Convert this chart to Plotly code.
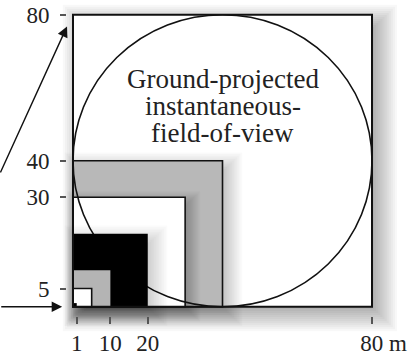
import plotly.graph_objects as go

# ---------------- data ----------------
square_sizes = [80, 40, 30, 20, 10, 5, 1]          # nested ground cells (m), anchored at origin
circle_center = [40, 40]
circle_radius = 40
x_tick_vals = [1, 10, 20, 80]
x_tick_text = ["1", "10", "20", "\u2007\u200780 m"]
y_tick_vals = [5, 30, 40, 80]
y_tick_text = ["5", "30", "40", "80"]
label_lines = ["Ground-projected", "instantaneous-", "field-of-view"]
label_line_y = [62.3, 55.0, 47.7]
top_text = "(e.g., Landsat)"

# ---------------- styles ----------------
FONT = "'Liberation Serif', 'Times New Roman', 'DejaVu Serif', serif"
fills = {80: "white", 40: "#b8b8b8", 30: "white", 20: "black", 10: "#b4b4b4", 5: "white", 1: "black"}
shadow_cfg = {80: (2.0, 10.0, 0.5), 40: (1.5, 8.0, 0.35), 30: (1.2, 6.0, 0.35), 20: (1.5, 8.0, 0.3)}

shapes = []


def add_shadow(s, off, blur, alpha, n=18):
    for k in range(n):
        e = blur * (k + 0.5) / n - blur / 2
        shapes.append(dict(type="rect", xref="x", yref="y",
                           x0=off - e, x1=s + off + e, y0=-off - e, y1=s - off + e,
                           fillcolor=f"rgba(0,0,0,{alpha / n:.4f})", line=dict(width=0), layer="below"))


def add_square(s, outline=True):
    shapes.append(dict(type="rect", xref="x", yref="y", x0=0, y0=0, x1=s, y1=s,
                       fillcolor=fills[s],
                       line=dict(color="#111", width=1.6 if outline else 0), layer="below"))


add_shadow(80, *shadow_cfg[80])
add_square(80, outline=False)
add_shadow(40, *shadow_cfg[40])
add_square(40)
add_shadow(30, *shadow_cfg[30])
add_square(30)
cx, cy = circle_center
shapes.append(dict(type="circle", xref="x", yref="y",
                   x0=cx - circle_radius, x1=cx + circle_radius,
                   y0=cy - circle_radius, y1=cy + circle_radius,
                   line=dict(color="#111", width=1.6), fillcolor="rgba(0,0,0,0)", layer="below"))
add_shadow(20, *shadow_cfg[20])
add_square(20, outline=False)
add_square(10, outline=False)
add_square(5)
add_square(1, outline=False)
shapes.append(dict(type="rect", xref="x", yref="y", x0=0, y0=0, x1=square_sizes[0], y1=square_sizes[0],
                   fillcolor="rgba(0,0,0,0)", line=dict(color="#111", width=2), layer="below"))

annotations = []
for txt, yy in zip(label_lines, label_line_y):
    annotations.append(dict(x=cx, y=yy, xref="x", yref="y", text=txt, showarrow=False,
                            font=dict(family=FONT, size=27, color="#222"), xanchor="center", yanchor="middle"))

annotations.append(dict(x=44.8, y=83.6, xref="x", yref="y", text=top_text, showarrow=False,
                        font=dict(family=FONT, size=22, color="#222"), xanchor="center", yanchor="bottom"))

annotations.append(dict(x=-2.9, y=0, xref="x", yref="y", ax=-19.6, ay=0, axref="x", ayref="y",
                        text="", showarrow=True, arrowhead=2, arrowsize=1.5, arrowwidth=1.4, arrowcolor="#111"))
annotations.append(dict(x=-1.6, y=76.8, xref="x", yref="y", ax=-19.6, ay=36.4, axref="x", ayref="y",
                        text="", showarrow=True, arrowhead=2, arrowsize=1.5, arrowwidth=1.4, arrowcolor="#111"))

fig = go.Figure()
fig.add_trace(go.Scatter(x=[0, square_sizes[0]], y=[0, square_sizes[0]], mode="markers",
                         marker=dict(opacity=0), hoverinfo="skip", showlegend=False))

fig.update_layout(
    width=416, height=356, margin=dict(l=0, r=0, t=0, b=0),
    paper_bgcolor="white", plot_bgcolor="white",
    shapes=shapes, annotations=annotations, showlegend=False,
    xaxis=dict(range=[-19.53, 91.77], anchor="free", position=0.0983,
               showgrid=False, zeroline=False, showline=False,
               tickmode="array", tickvals=x_tick_vals, ticktext=x_tick_text,
               ticks="outside", ticklen=7, tickwidth=1.5, tickcolor="#555",
               tickfont=dict(family=FONT, size=23, color="#222")),
    yaxis=dict(range=[-11.85, 84.04], anchor="free", position=0.1587,
               showgrid=False, zeroline=False, showline=False,
               tickmode="array", tickvals=y_tick_vals, ticktext=y_tick_text,
               ticks="outside", ticklen=6, tickwidth=2, tickcolor="#555",
               ticklabelstandoff=6,
               tickfont=dict(family=FONT, size=23, color="#222")),
)

fig.write_html("out.html", config={"displayModeBar": False},
               post_script="document.body.style.margin='0px';document.body.style.overflow='hidden';")
